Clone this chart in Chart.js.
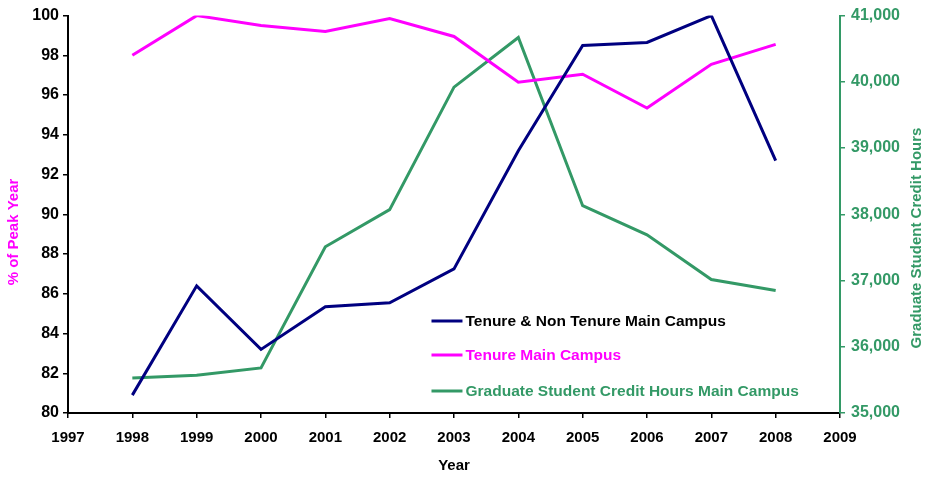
<!DOCTYPE html>
<html><head><meta charset="utf-8">
<script src="https://cdn.jsdelivr.net/npm/chart.js@4/dist/chart.umd.min.js"></script>
<style>html,body{margin:0;padding:0;background:#fff}#wrap{width:925px;height:479px}</style>
</head><body><div id="wrap"><canvas id="c" width="925" height="479"></canvas></div>
<script>
const years = [1998,1999,2000,2001,2002,2003,2004,2005,2006,2007,2008];
const tenureNonTenure = [80.9,86.4,83.2,85.35,85.55,87.25,93.2,98.5,98.65,100,92.7];
const tenure = [98.0,100,99.5,99.2,99.85,98.95,96.65,97.05,95.35,97.55,98.55];
const gradHours = [35530,35570,35680,37510,38070,39920,40670,38130,37690,37015,36850];
const seriesNames = ['Tenure & Non Tenure Main Campus','Tenure Main Campus','Graduate Student Credit Hours Main Campus'];
const axisTitles = {x:'Year', y:'% of Peak Year', y2:'Graduate Student Credit Hours'};
const colors = ['#000080','#FF00FF','#339966'];
const legendTextColors = ['#000000','#FF00FF','#339966'];
const FONT = '"Liberation Sans", Arial, sans-serif';

const pts = (arr) => years.map((y,i)=>({x:y,y:arr[i]}));

const legendPlugin = {
  id:'inlegend',
  afterDraw(chart){
    const ctx = chart.ctx;
    const xs = chart.scales.x;
    const x0 = xs.getPixelForValue(2002.65);
    const rowsY = [321,355,391];
    ctx.save();
    ctx.font = 'bold 15.5px ' + FONT;
    ctx.textBaseline = 'middle';
    chart.data.datasets.forEach((ds,i)=>{
      const y = rowsY[i];
      ctx.strokeStyle = ds.borderColor;
      ctx.lineWidth = 3;
      ctx.beginPath(); ctx.moveTo(x0,y); ctx.lineTo(x0+31,y); ctx.stroke();
      ctx.fillStyle = legendTextColors[i];
      ctx.fillText(ds.label, x0+34, y+1);
    });
    // side axis titles
    ctx.font = 'bold 15px ' + FONT;
    ctx.textAlign = 'center';
    ctx.textBaseline = 'middle';
    ctx.fillStyle = '#FF00FF';
    ctx.save(); ctx.translate(14, 232); ctx.rotate(-Math.PI/2); ctx.fillText(axisTitles.y, 0, 0); ctx.restore();
    ctx.fillStyle = '#339966';
    ctx.save(); ctx.translate(917, 238); ctx.rotate(-Math.PI/2); ctx.fillText(axisTitles.y2, 0, 0); ctx.restore();
    ctx.restore();
  }
};

new Chart(document.getElementById('c'), {
  type:'line',
  data:{datasets:[
    {label:seriesNames[0], data:pts(tenureNonTenure), borderColor:colors[0], yAxisID:'y', borderWidth:3, pointRadius:0, tension:0},
    {label:seriesNames[1], data:pts(tenure), borderColor:colors[1], yAxisID:'y', borderWidth:3, pointRadius:0, tension:0},
    {label:seriesNames[2], data:pts(gradHours), borderColor:colors[2], yAxisID:'y2', borderWidth:3, pointRadius:0, tension:0}
  ]},
  options:{
    responsive:false, animation:false,
    layout:{padding:{top:14,left:0,right:0,bottom:0}},
    plugins:{legend:{display:false}, tooltip:{enabled:false}},
    scales:{
      x:{type:'linear', min:1997, max:2009,
        ticks:{stepSize:1, callback:v=>String(v), color:'#000', font:{family:FONT, size:15, weight:'bold'}, padding:11, maxRotation:0, autoSkip:false},
        grid:{display:true, drawOnChartArea:false, drawTicks:true, tickLength:5, color:'#000', lineWidth:1.5},
        border:{display:true, color:'#000', width:2},
        title:{display:true, text:axisTitles.x, color:'#000', font:{family:FONT, size:15, weight:'bold'}, padding:{top:4}},
        afterFit(s){ s.height = 66; }
      },
      y:{type:'linear', position:'left', min:80, max:100,
        ticks:{stepSize:2, color:'#000', font:{family:FONT, size:16, weight:'bold'}, padding:4},
        grid:{display:true, drawOnChartArea:false, drawTicks:true, tickLength:5, color:'#000', lineWidth:1.5},
        border:{display:true, color:'#000', width:2},
        afterFit(s){ s.width = 68; }
      },
      y2:{type:'linear', position:'right', min:35000, max:41000,
        ticks:{stepSize:1000, color:'#339966', font:{family:FONT, size:16, weight:'bold'}, padding:6,
          callback:v=>v.toLocaleString('en-US')},
        grid:{display:true, drawOnChartArea:false, drawTicks:true, tickLength:5, color:'#339966', lineWidth:1.5},
        border:{display:true, color:'#339966', width:2},
        afterFit(s){ s.width = 85; }
      }
    }
  },
  plugins:[legendPlugin]
});
</script></body></html>
